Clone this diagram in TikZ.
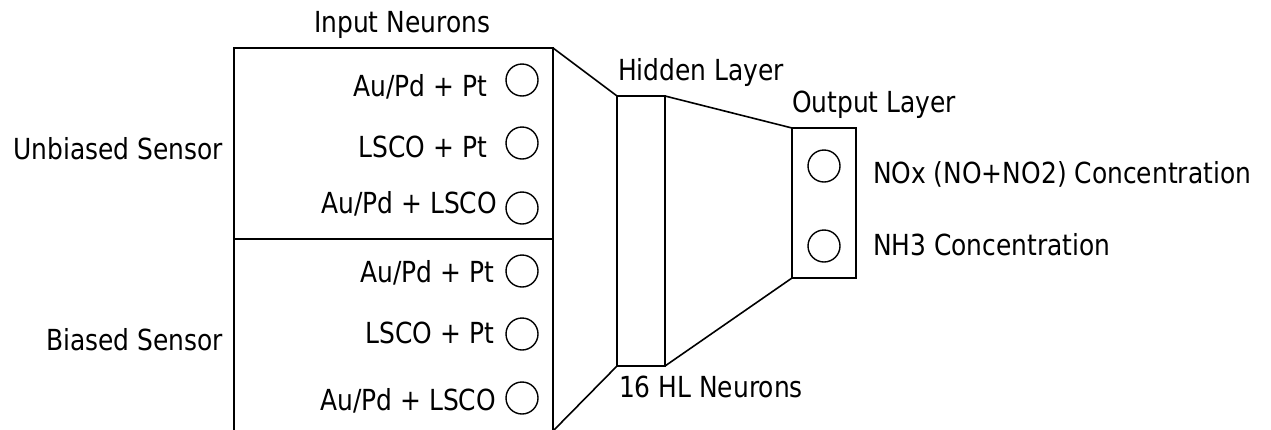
\documentclass[tikz,border=0pt]{standalone}
\usepackage{fontspec}
\setmainfont{DejaVu Sans}[FakeStretch=0.86]
\begin{document}
\begin{tikzpicture}[x=1pt,y=-1pt,line width=1.6pt,
  txt/.style={inner sep=0pt,outer sep=0pt,font=\fontsize{29}{33}\selectfont},
  box/.style={draw,rectangle,inner sep=0pt,outer sep=0pt,anchor=north west},
  neuron/.style={draw,circle,inner sep=0pt,outer sep=0pt,minimum size=32pt,line width=1.4pt}]
\useasboundingbox (0,0) rectangle (1271,429);
\clip (0,0) rectangle (1271,429);
% layers
\node[box,minimum width=319pt,minimum height=383pt] (inp) at (234,48) {};
\coordinate (dl) at (234,239);
\coordinate (dr) at (553,239);
\draw (dl) -- (dr);
\node[box,minimum width=48pt,minimum height=270pt] (hid) at (617,96) {};
\node[box,minimum width=64pt,minimum height=150pt] (out) at (792,128) {};
\draw (inp.north east) -- (hid.north west);
\draw (inp.south east) -- (hid.south west);
\draw (hid.north east) -- (out.north west);
\draw (hid.south east) -- (out.south west);
% input neurons
\node[neuron] (i1) at (522,80) {};
\node[neuron] (i2) at (522,143) {};
\node[neuron] (i3) at (522,208) {};
\node[neuron] (i4) at (522,271) {};
\node[neuron] (i5) at (522,334) {};
\node[neuron] (i6) at (522,398) {};
\node[txt,anchor=base east] (t1) at (487,96) {Au/Pd + Pt};
\node[txt,anchor=base east] (t2) at (487,157) {LSCO + Pt};
\node[txt,anchor=base east] (t3) at (497,213) {Au/Pd + LSCO};
\node[txt,anchor=base east] (t4) at (494,282) {Au/Pd + Pt};
\node[txt,anchor=base east] (t5) at (494,343) {LSCO + Pt};
\node[txt,anchor=base east] (t6) at (496,410) {Au/Pd + LSCO};
% output neurons
\node[neuron] (o1) at (824,166) {};
\node[neuron] (o2) at (824,246) {};
\node[txt,anchor=base west] (n1) at (873,183) {NOx (NO+NO2) Concentration};
\node[txt,anchor=base west] (n2) at (873,255) {NH3 Concentration};
% titles
\node[txt,anchor=base west] (ttl) at (314,32) {Input Neurons};
\node[txt,anchor=base west] (hl) at (618,80) {Hidden Layer};
\node[txt,anchor=base west] (ol) at (792,112) {Output Layer};
\node[txt,anchor=base west] (hn) at (619,397) {16 HL Neurons};
\node[txt,anchor=base east] (us) at (223,159) {Unbiased Sensor};
\node[txt,anchor=base east] (bs) at (223,350) {Biased Sensor};
\end{tikzpicture}
\end{document}
